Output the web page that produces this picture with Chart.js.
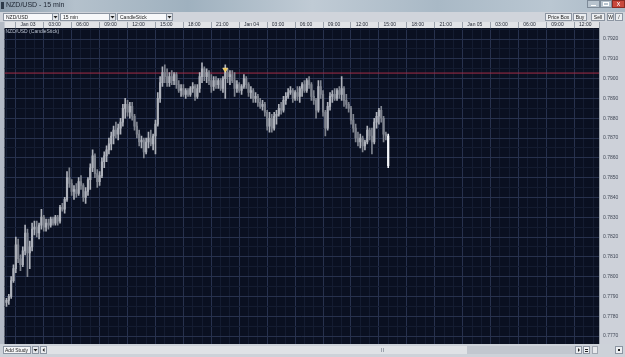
<!DOCTYPE html>
<html><head><meta charset="utf-8">
<script src="https://cdn.jsdelivr.net/npm/chart.js@4.4.1/dist/chart.umd.min.js"></script>
<style>html,body{margin:0;padding:0;background:#d3d7de;overflow:hidden}canvas{display:block}</style>
</head><body>
<canvas id="c" width="625" height="357"></canvas>
<script>
const windowTitle = 'NZD/USD - 15 min';
const seriesLabel = 'NZD/USD (CandleStick)';
const toolbarSymbol = 'NZD/USD';
const toolbarPeriod = '15 min';
const toolbarType = 'CandleStick';
const dayLabels = ['Jan 03', 'Jan 04', 'Jan 05'];
// hours relative to Jan 03 00:00
const firstCandleHour = -1.5;
const candleHours = 0.25;
const viewStartHour = -1.714;
const viewEndHour = 62.14;
const priceMin = 0.776596;
const priceMax = 0.792556;
const priceLine = 0.79028;
const markerHour = 22.0;
const markerPrice = 0.79046;

const opens = [
.7787,.7788,.7790,.7798,.7804,.7816,.7809,.7806,.7813,.7822,
.7812,.7815,.7824,.7825,.7822,.7826,.7830,.7825,.7827,.7826,
.7829,.7827,.7830,.7828,.7835,.7834,.7839,.7850,.7847,.7843,
.7844,.7842,.7848,.7846,.7840,.7843,.7849,.7855,.7861,.7852,
.7848,.7851,.7858,.7861,.7864,.7867,.7871,.7874,.7872,.7875,
.7878,.7885,.7887,.7883,.7886,.7881,.7876,.7872,.7868,.7869,
.7863,.7868,.7870,.7867,.7871,.7877,.7890,.7898,.7903,.7901,
.7898,.7901,.7899,.7902,.7897,.7894,.7895,.7892,.7894,.7892,
.7895,.7896,.7891,.7895,.7901,.7905,.7901,.7903,.7899,.7896,
.7899,.7897,.7899,.7895,.7900,.7903,.7901,.7902,.7899,.7895,
.7897,.7894,.7896,.7900,.7897,.7893,.7894,.7890,.7891,.7888,
.7886,.7887,.7883,.7876,.7880,.7875,.7881,.7882,.7885,.7884,
.7889,.7891,.7893,.7894,.7890,.7893,.7891,.7895,.7897,.7894,
.7899,.7897,.7891,.7889,.7884,.7896,.7892,.7883,.7875,.7886,
.7891,.7892,.7890,.7894,.7892,.7895,.7889,.7887,.7885,.7879,
.7875,.7870,.7868,.7870,.7866,.7868,.7874,.7871,.7868,.7878,
.7881,.7884,.7880,.7872,.7871];
const highs = [
.7789,.7791,.7800,.7806,.7820,.7819,.7811,.7815,.7826,.7824,
.7818,.7827,.7828,.7828,.7827,.7834,.7831,.7829,.7829,.7830,
.7830,.7831,.7831,.7836,.7837,.7840,.7853,.7855,.7849,.7846,
.7847,.7850,.7851,.7847,.7845,.7850,.7857,.7864,.7862,.7854,
.7853,.7860,.7863,.7866,.7870,.7873,.7876,.7878,.7877,.7880,
.7887,.7890,.7889,.7888,.7888,.7882,.7878,.7874,.7871,.7870,
.7870,.7873,.7874,.7872,.7879,.7893,.7901,.7906,.7907,.7905,
.7903,.7904,.7903,.7903,.7899,.7897,.7897,.7895,.7895,.7896,
.7898,.7897,.7897,.7903,.7908,.7906,.7905,.7904,.7902,.7901,
.7901,.7900,.7900,.7901,.7907,.7905,.7904,.7904,.7903,.7899,
.7898,.7897,.7902,.7901,.7898,.7896,.7895,.7893,.7892,.7890,
.7889,.7888,.7884,.7883,.7882,.7883,.7884,.7887,.7888,.7891,
.7893,.7895,.7896,.7895,.7894,.7896,.7896,.7898,.7899,.7900,
.7901,.7898,.7894,.7890,.7899,.7899,.7894,.7884,.7888,.7893,
.7894,.7895,.7895,.7896,.7901,.7896,.7892,.7888,.7886,.7882,
.7877,.7873,.7872,.7871,.7869,.7876,.7875,.7875,.7880,.7883,
.7885,.7886,.7881,.7873,.7872];
const lows = [
.7785,.7786,.7789,.7797,.7802,.7807,.7803,.7805,.7811,.7800,
.7804,.7813,.7821,.7820,.7819,.7824,.7823,.7823,.7824,.7825,
.7826,.7826,.7826,.7827,.7833,.7832,.7838,.7845,.7841,.7839,
.7840,.7841,.7844,.7838,.7837,.7841,.7844,.7853,.7850,.7845,
.7846,.7850,.7855,.7858,.7862,.7864,.7867,.7870,.7869,.7872,
.7876,.7880,.7881,.7880,.7879,.7874,.7870,.7866,.7865,.7860,
.7862,.7865,.7866,.7864,.7862,.7876,.7888,.7896,.7898,.7896,
.7896,.7897,.7897,.7895,.7893,.7891,.7891,.7890,.7891,.7891,
.7893,.7889,.7890,.7893,.7898,.7899,.7898,.7897,.7893,.7894,
.7895,.7895,.7894,.7893,.7890,.7898,.7897,.7898,.7891,.7893,
.7893,.7892,.7895,.7895,.7891,.7890,.7888,.7888,.7886,.7885,
.7884,.7881,.7874,.7873,.7873,.7874,.7877,.7881,.7882,.7883,
.7887,.7890,.7892,.7888,.7889,.7889,.7888,.7891,.7893,.7893,
.7895,.7889,.7887,.7880,.7883,.7890,.7881,.7871,.7874,.7884,
.7888,.7889,.7889,.7890,.7889,.7886,.7885,.7883,.7877,.7873,
.7868,.7866,.7865,.7863,.7864,.7867,.7869,.7862,.7867,.7875,
.7877,.7878,.7868,.7869,.7855];
const closes = [
.7788,.7790,.7798,.7804,.7816,.7809,.7806,.7813,.7822,.7812,
.7815,.7824,.7825,.7822,.7826,.7830,.7825,.7827,.7826,.7829,
.7827,.7830,.7828,.7835,.7834,.7839,.7850,.7847,.7843,.7844,
.7842,.7848,.7846,.7840,.7843,.7849,.7855,.7861,.7852,.7848,
.7851,.7858,.7861,.7864,.7867,.7871,.7874,.7872,.7875,.7878,
.7885,.7887,.7883,.7886,.7881,.7876,.7872,.7868,.7869,.7863,
.7868,.7870,.7867,.7871,.7877,.7890,.7898,.7903,.7901,.7898,
.7901,.7899,.7902,.7897,.7894,.7895,.7892,.7894,.7892,.7895,
.7896,.7891,.7895,.7901,.7905,.7901,.7903,.7899,.7896,.7899,
.7897,.7899,.7895,.7900,.7903,.7901,.7902,.7899,.7895,.7897,
.7894,.7896,.7900,.7897,.7893,.7894,.7890,.7891,.7888,.7886,
.7887,.7883,.7876,.7880,.7875,.7881,.7882,.7885,.7884,.7889,
.7891,.7893,.7894,.7890,.7893,.7891,.7895,.7897,.7894,.7899,
.7897,.7891,.7889,.7884,.7896,.7892,.7883,.7875,.7886,.7891,
.7892,.7890,.7894,.7892,.7895,.7889,.7887,.7885,.7879,.7875,
.7870,.7868,.7870,.7866,.7868,.7874,.7871,.7868,.7878,.7881,
.7884,.7880,.7872,.7871,.7856];

const FONT = 'Liberation Sans, Arial, sans-serif';
const UP = '#aeb2bb', DOWN = '#7f848f', LAST = '#f4f6fa';
const times = opens.map((_, i) => firstCandleHour + i * candleHours);
const candleColor = i => i === opens.length - 1 ? LAST : (closes[i] >= opens[i] ? UP : DOWN);

const wickData = times.map((t, i) => ({x: t, y: [lows[i], highs[i]]}));
const bodyData = times.map((t, i) => ({x: t, y: [Math.min(opens[i], closes[i]), Math.max(opens[i], closes[i])]}));

function box(ctx, x, y, w, h, fill, stroke) {
  ctx.fillStyle = fill; ctx.fillRect(x, y, w, h);
  if (stroke) { ctx.strokeStyle = stroke; ctx.lineWidth = 1; ctx.strokeRect(x + 0.5, y + 0.5, w - 1, h - 1); }
}
function txt(ctx, s, x, y, size, color, align) {
  ctx.font = size + 'px ' + FONT; ctx.fillStyle = color;
  ctx.textAlign = align || 'left'; ctx.textBaseline = 'middle'; ctx.fillText(s, x, y);
}
function arrowDown(ctx, cx, cy, color) {
  ctx.fillStyle = color; ctx.beginPath();
  ctx.moveTo(cx - 2, cy - 1); ctx.lineTo(cx + 2, cy - 1); ctx.lineTo(cx, cy + 1.5); ctx.closePath(); ctx.fill();
}

const chrome = {
  id: 'chrome',
  beforeDraw(chart) {
    const ctx = chart.ctx, a = chart.chartArea;
    ctx.save();
    ctx.fillStyle = '#d3d7de'; ctx.fillRect(0, 0, 625, 357);
    const g = ctx.createLinearGradient(0, 0, 625, 0);
    g.addColorStop(0, '#8a9cab'); g.addColorStop(0.12, '#b4c1cc'); g.addColorStop(0.3, '#9fb1bf');
    g.addColorStop(0.5, '#c0cbd5'); g.addColorStop(0.7, '#a9b9c6'); g.addColorStop(0.88, '#bac7d2'); g.addColorStop(1, '#aab9c6');
    ctx.fillStyle = g; ctx.fillRect(0, 0, 625, 12);
    ctx.fillStyle = '#2d3a48'; ctx.fillRect(1, 2, 3, 7);
    txt(ctx, windowTitle, 6, 5.5, 7, '#1c2430');
    box(ctx, 587, 0, 13, 8, '#b7c3ce', '#7d8a98');
    box(ctx, 600, 0, 12, 8, '#b7c3ce', '#7d8a98');
    box(ctx, 612, 0, 13, 8, '#c9483c', '#8a2a22');
    ctx.fillStyle = '#ffffff'; ctx.fillRect(591, 5, 5, 1); ctx.strokeStyle = '#ffffff'; ctx.strokeRect(603.5, 2.5, 5, 3);
    txt(ctx, 'x', 618.5, 4, 7, '#ffffff', 'center');
    ctx.fillStyle = '#d0d4db'; ctx.fillRect(0, 12, 625, 10);
    const drops = [[3, 56, toolbarSymbol], [60, 56, toolbarPeriod], [117, 56, toolbarType]];
    drops.forEach(([x, w, s]) => {
      box(ctx, x, 13, w, 8, '#f7f8fa', '#8c95a2');
      box(ctx, x + w - 7, 13, 7, 8, '#e3e6ea', '#8c95a2');
      arrowDown(ctx, x + w - 3.5, 17, '#202020');
      txt(ctx, s, x + 3, 17.2, 5, '#202020');
    });
    [[545, 27, 'Price Box'], [573, 14, 'Buy'], [591, 14, 'Sell'], [607, 7, 'W'], [615, 8, '/']].forEach(([x, w, s]) => {
      box(ctx, x, 13, w, 8, '#eceef1', '#8c95a2');
      txt(ctx, s, x + w / 2, 17.2, 5, '#202020', 'center');
    });
    ctx.fillStyle = '#e1e3e7'; ctx.fillRect(a.left, 22, a.right - a.left, a.top - 22);
    ctx.fillStyle = '#cdd1d9'; ctx.fillRect(a.right, 22, 625 - a.right, a.bottom - 22);
    ctx.fillStyle = '#9aa1ab'; ctx.fillRect(a.right, 22, 1, a.bottom - 22);
    ctx.fillStyle = '#b3bac5'; ctx.fillRect(0, 22, a.left, a.bottom - 22);
    ctx.fillStyle = '#0a1021'; ctx.fillRect(a.left, a.top, a.right - a.left, a.bottom - a.top);
    ctx.fillStyle = '#cdd2d9'; ctx.fillRect(0, a.bottom, 625, 357 - a.bottom);
    box(ctx, 3, 346, 28, 8, '#f4f5f7', '#8c95a2');
    txt(ctx, 'Add Study', 5, 350.2, 5, '#202020');
    box(ctx, 32, 346, 7, 8, '#e3e6ea', '#8c95a2'); arrowDown(ctx, 35.5, 350, '#202020');
    box(ctx, 40, 346, 7, 8, '#eceef1', '#8c95a2');
    ctx.fillStyle = '#202020'; ctx.beginPath(); ctx.moveTo(42.5, 350); ctx.lineTo(44.5, 348); ctx.lineTo(44.5, 352); ctx.closePath(); ctx.fill();
    ctx.fillStyle = '#dfe2e6'; ctx.fillRect(47, 346, 420, 8);
    ctx.fillStyle = '#c2c7cf'; ctx.fillRect(467, 346, 108, 8);
    ctx.fillStyle = '#9da3ad'; ctx.fillRect(381, 348, 1, 4); ctx.fillRect(383, 348, 1, 4);
    box(ctx, 575, 346, 7, 8, '#eceef1', '#8c95a2');
    ctx.fillStyle = '#202020'; ctx.beginPath(); ctx.moveTo(580, 350); ctx.lineTo(578, 348); ctx.lineTo(578, 352); ctx.closePath(); ctx.fill();
    box(ctx, 583, 346, 7, 8, '#eceef1', '#8c95a2'); ctx.fillStyle = '#202020'; ctx.fillRect(585, 349, 3, 1); ctx.fillRect(585, 351, 3, 1);
    box(ctx, 592, 346, 6, 8, '#e6e8ec', '#a0a6b0');
    box(ctx, 615, 346, 8, 8, '#eceef1', '#8c95a2'); ctx.fillStyle = '#202020'; ctx.fillRect(618, 349, 2, 2);
    ctx.restore();
  },
  afterDraw(chart) {
    const ctx = chart.ctx, a = chart.chartArea;
    ctx.save();
    txt(ctx, seriesLabel, a.left + 1, a.top + 4, 5, '#b9c1cf');
    ctx.restore();
  }
};

const MAJOR = '#27314d', MINOR = '#141c31';
const isMajorHour = c => !c.tick || Math.round(c.tick.value) % 3 === 0;
const isMajorPrice = c => !c.tick || Math.round(c.tick.value * 10000) % 10 === 0;

new Chart(document.getElementById('c'), {
  type: 'bar',
  data: {
    datasets: [
      {type: 'line', data: [{x: viewStartHour, y: priceLine}, {x: viewEndHour, y: priceLine}],
       borderColor: '#a32c45', borderWidth: 1, pointRadius: 0, order: 4},
      {data: wickData, backgroundColor: wickData.map((_, i) => candleColor(i)), barThickness: 1, grouped: false, order: 3},
      {data: bodyData, backgroundColor: bodyData.map((_, i) => candleColor(i)), barThickness: 1.5, grouped: false, order: 2},
      {type: 'scatter', data: [{x: markerHour, y: markerPrice}], pointStyle: 'triangle', rotation: 180,
       pointRadius: 3, backgroundColor: '#f0c24e', borderColor: '#fff0b8', borderWidth: 0.5, order: 1}
    ]
  },
  options: {
    responsive: false, animation: false, events: [],
    layout: {padding: {left: 3, top: 22, right: 0, bottom: 13}},
    plugins: {legend: {display: false}, tooltip: {enabled: false}},
    scales: {
      x: {
        type: 'linear', position: 'top', min: viewStartHour, max: viewEndHour, offset: false,
        afterFit: s => { s.height = 6; },
        border: {display: false},
        grid: {
          color: c => (isMajorHour(c) ? MAJOR : MINOR),
          tickColor: c => (isMajorHour(c) ? '#9aa1ab' : 'rgba(0,0,0,0)'),
          tickLength: 6, lineWidth: 1
        },
        ticks: {
          stepSize: 1, includeBounds: false, autoSkip: false, maxRotation: 0, minRotation: 0,
          align: 'start', padding: -6, color: '#1d2330', font: {size: 5, family: FONT},
          callback: v => {
            const h = Math.round(v);
            if (Math.abs(v - h) > 1e-6 || h % 3 !== 0) return '';
            const hh = ((h % 24) + 24) % 24;
            if (hh === 0) return dayLabels[Math.floor(h / 24)] || '';
            return String(hh).padStart(2, '0') + ':00';
          }
        }
      },
      y: {
        type: 'linear', position: 'right', min: priceMin, max: priceMax,
        afterFit: s => { s.width = 26; },
        border: {display: false},
        grid: {color: c => (isMajorPrice(c) ? MAJOR : MINOR), drawTicks: false, lineWidth: 1},
        ticks: {
          stepSize: 0.0005, includeBounds: false, autoSkip: false, padding: 4,
          color: '#414856', font: {size: 5, family: FONT},
          callback: v => {
            const k = Math.round(v * 10000);
            return k % 10 === 0 ? (k / 10000).toFixed(4) : '';
          }
        }
      }
    }
  },
  plugins: [chrome]
});
</script>
</body></html>
